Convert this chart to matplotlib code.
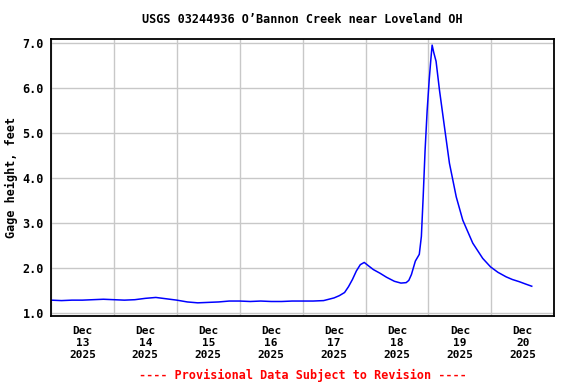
import matplotlib
matplotlib.use("Agg")
import matplotlib.pyplot as plt
from matplotlib.ticker import MultipleLocator, FixedLocator

# hours since Dec 13 2025 00:00 and gage height (ft)
hours = [0, 4, 8, 12, 16, 20, 24, 28, 32, 36, 40, 44, 48, 52, 56, 60, 64, 68,
         72, 76, 80, 84, 88, 92, 96, 100, 104, 106, 108, 110, 112, 113.5, 115,
         116.5, 118, 119.5, 121, 123, 125.5, 128, 131, 133.5, 135.5, 136.5,
         137.5, 139.0, 140.5, 141.3, 142.0, 142.7, 143.5, 144.3, 145.0, 145.4,
         146.0, 146.9, 148.2, 150.1, 152.0, 154.6, 157.1, 160.9, 164.7, 167.7,
         170.5, 173.6, 176.0, 178.7, 181.0, 183.4]
gage = [1.28, 1.27, 1.28, 1.28, 1.29, 1.30, 1.29, 1.28, 1.29, 1.32, 1.34, 1.31,
        1.28, 1.24, 1.22, 1.23, 1.24, 1.26, 1.26, 1.25, 1.26, 1.25, 1.25, 1.26,
        1.26, 1.26, 1.27, 1.30, 1.33, 1.38, 1.45, 1.58, 1.74, 1.93, 2.07, 2.12,
        2.05, 1.96, 1.88, 1.79, 1.70, 1.66, 1.67, 1.72, 1.85, 2.15, 2.30, 2.70,
        3.60, 4.60, 5.50, 6.20, 6.70, 6.96, 6.80, 6.60, 5.96, 5.14, 4.33, 3.58,
        3.06, 2.55, 2.21, 2.02, 1.90, 1.80, 1.74, 1.69, 1.64, 1.59]

days = ["13", "14", "15", "16", "17", "18", "19", "20"]
day_labels = ["Dec\n%s\n2025" % d for d in days]
y_ticks = [1.0, 2.0, 3.0, 4.0, 5.0, 6.0, 7.0]

font = "DejaVu Sans Mono"
plt.rcParams["font.family"] = font
plt.rcParams["font.weight"] = "bold"

fig = plt.figure(figsize=(5.76, 3.84), dpi=100)
ax = fig.add_axes([0.0885, 0.1771, 0.8738, 0.7206])

ax.plot(hours, gage, color="#0000ff", linewidth=1.1)

ax.set_xlim(0, 24 * len(days))
ax.set_ylim(0.927, 7.09)

# gridlines at midnight, labels at noon
ax.xaxis.set_major_locator(MultipleLocator(24))
ax.xaxis.set_minor_locator(FixedLocator([24 * i + 12 for i in range(len(days))]))
ax.xaxis.set_major_formatter(plt.NullFormatter())
ax.set_xticklabels(day_labels, minor=True, fontsize=8, fontweight="bold",
                   linespacing=1.25)
ax.set_yticks(y_ticks)
ax.set_yticklabels(["%.1f" % v for v in y_ticks], fontsize=8.5, fontweight="bold")
ax.tick_params(axis="both", which="both", length=0)
ax.tick_params(axis="x", which="minor", pad=7)
ax.tick_params(axis="y", pad=5)

ax.grid(True, which="major", color="#c8c8c8", linewidth=1.0)
ax.set_axisbelow(True)
for s in ax.spines.values():
    s.set_linewidth(1.3)
    s.set_color("black")

ax.set_ylabel("Gage height, feet", fontsize=8.5, fontweight="bold", labelpad=3)
fig.text(0.525, 0.948, "USGS 03244936 O\u2019Bannon Creek near Loveland OH",
         ha="center", va="center", fontsize=8.5, fontweight="bold")
fig.text(0.525, 0.023, "---- Provisional Data Subject to Revision ----",
         ha="center", va="center", fontsize=8.5, fontweight="bold", color="red")

fig.savefig("out.png", dpi=100)
